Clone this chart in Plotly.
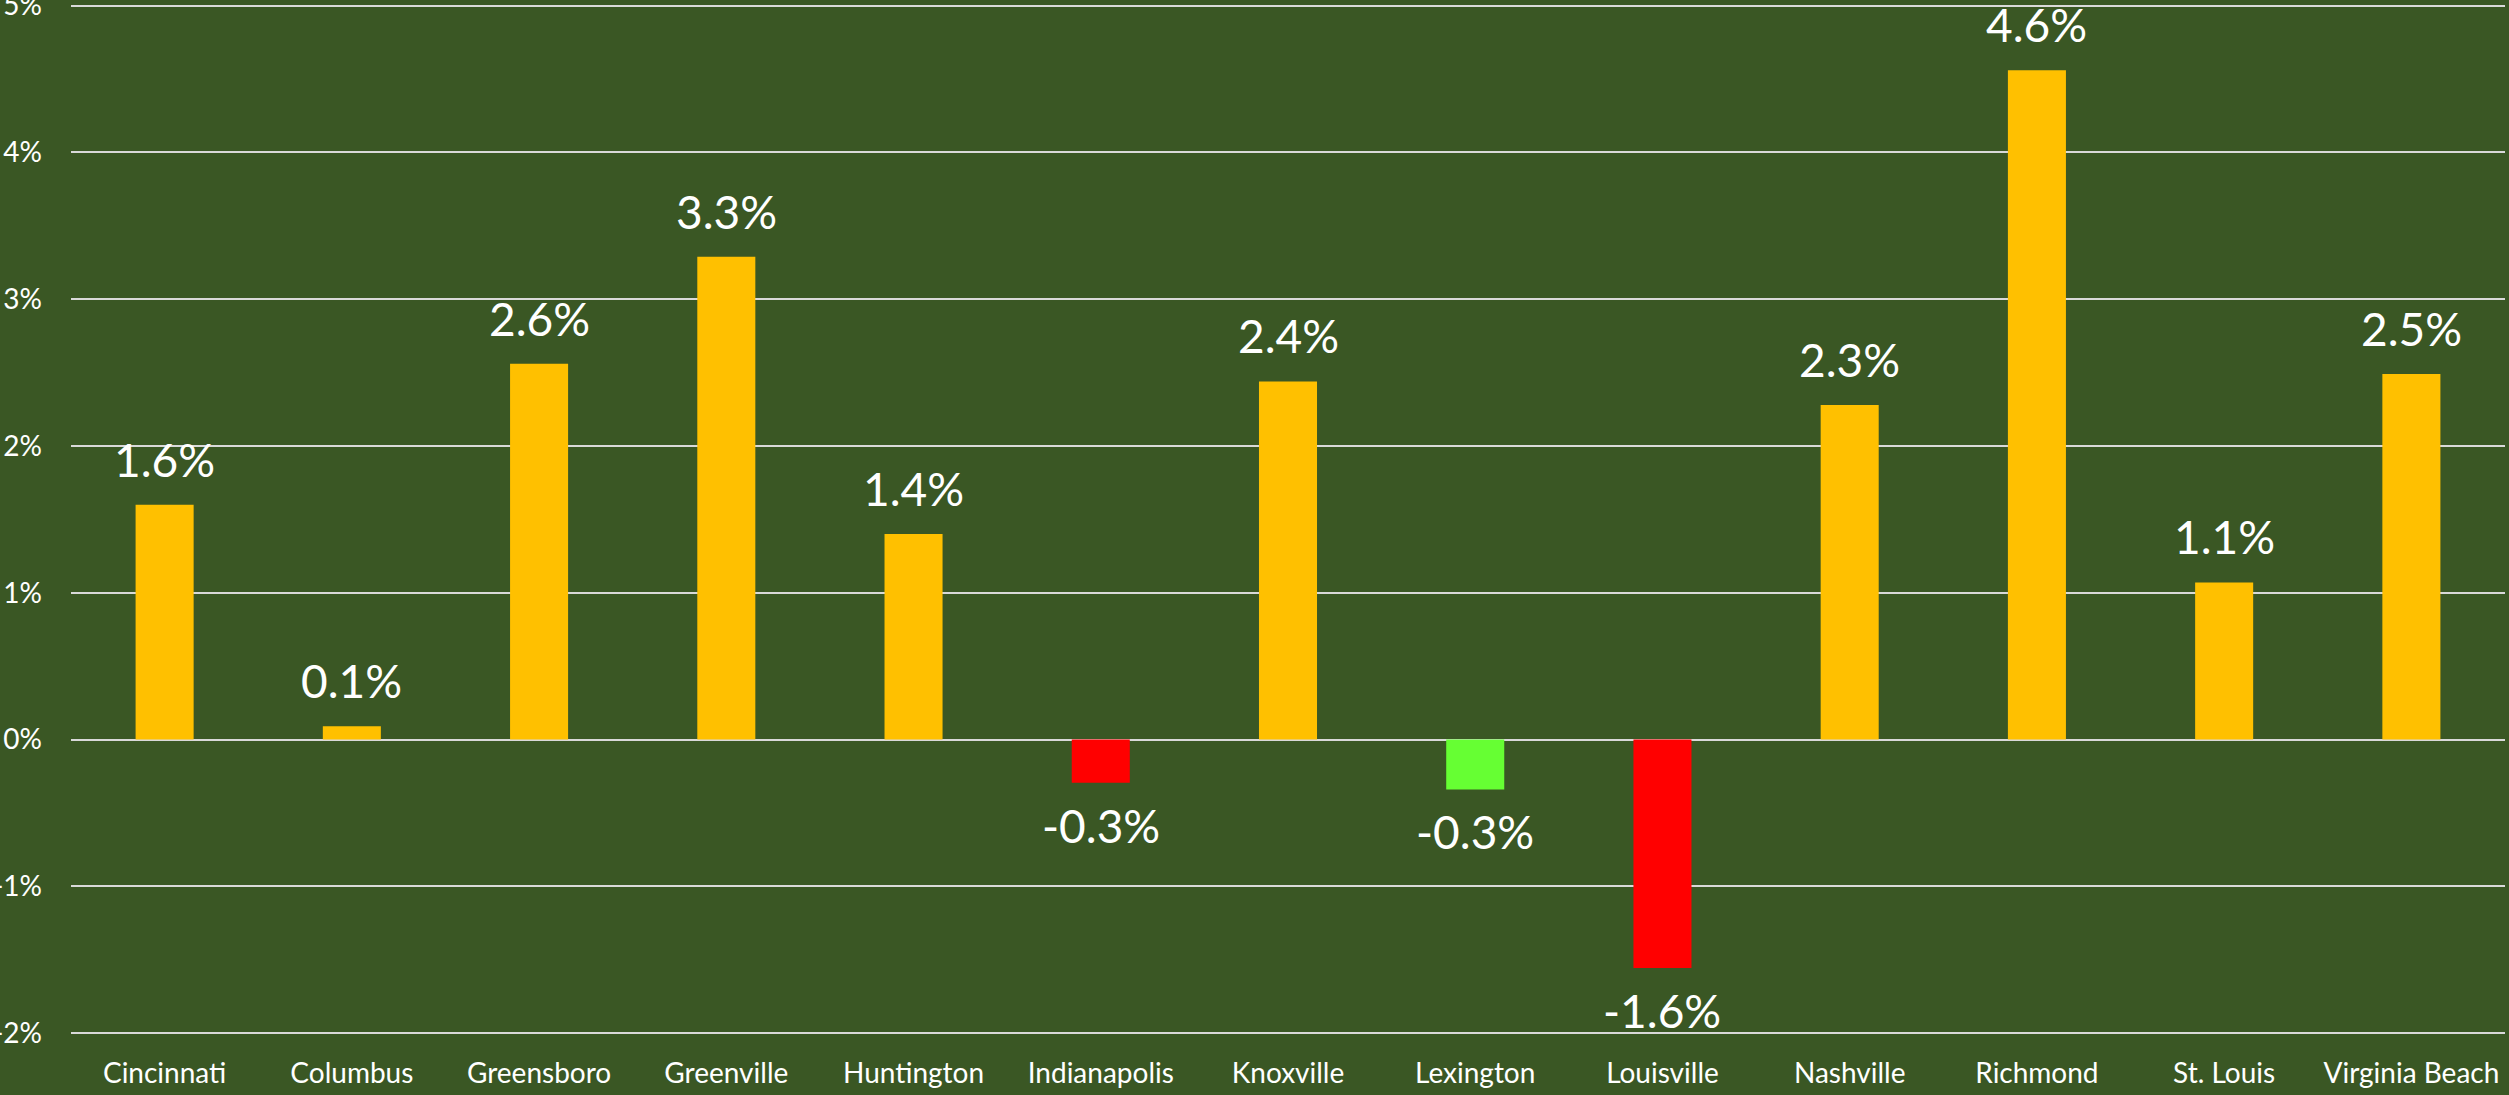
import plotly.graph_objects as go

cities = ["Cincinnati", "Columbus", "Greensboro", "Greenville", "Huntington",
          "Indianapolis", "Knoxville", "Lexington", "Louisville", "Nashville",
          "Richmond", "St. Louis", "Virginia Beach"]
growth_pct = [1.60, 0.09, 2.56, 3.29, 1.40, -0.295, 2.44, -0.34, -1.556, 2.28, 4.56, 1.07, 2.49]
bar_colors = ["#FFC000", "#FFC000", "#FFC000", "#FFC000", "#FFC000", "#FF0000", "#FFC000",
              "#66FF33", "#FF0000", "#FFC000", "#FFC000", "#FFC000", "#FFC000"]
y_ticks = [-2, -1, 0, 1, 2, 3, 4, 5]

BG = "#3A5724"
FONT = "Lato"

fig = go.Figure()
fig.add_trace(go.Bar(
    x=cities, y=growth_pct,
    marker=dict(color=bar_colors, line=dict(width=0)),
    hoverinfo="skip",
))

annotations = []
for c, v in zip(cities, growth_pct):
    annotations.append(dict(
        x=c, y=v, xref="x", yref="y",
        text=f"{v:.1f}%", showarrow=False,
        yanchor="bottom" if v >= 0 else "top",
        yshift=16 if v >= 0 else -13,
        font=dict(family=FONT, size=46, color="white"),
    ))

fig.update_layout(
    width=2509, height=1095,
    paper_bgcolor=BG, plot_bgcolor=BG,
    margin=dict(l=71, r=4, t=2, b=59),
    bargap=0.69,
    showlegend=False,
    annotations=annotations,
    font=dict(family=FONT, color="white"),
)
fig.update_yaxes(
    range=[-2.02, 5.025], tickvals=y_ticks, ticktext=[f"{t}%" for t in y_ticks],
    showgrid=True, gridcolor="#D9D9D9", gridwidth=2,
    zeroline=False, showline=False, ticks="",
    tickfont=dict(family=FONT, size=28, color="white"),
    automargin=False, ticklabelstandoff=28, ticklabeloverflow="allow",
)
fig.update_xaxes(
    showgrid=False, zeroline=False, showline=False, ticks="",
    tickfont=dict(family=FONT, size=28, color="white"),
    automargin=False, ticklabelstandoff=18, ticklabeloverflow="allow",
)

fig.write_html("out.html", config={"displayModeBar": False},
               post_script="document.body.style.margin='0';document.body.style.overflow='hidden';")
